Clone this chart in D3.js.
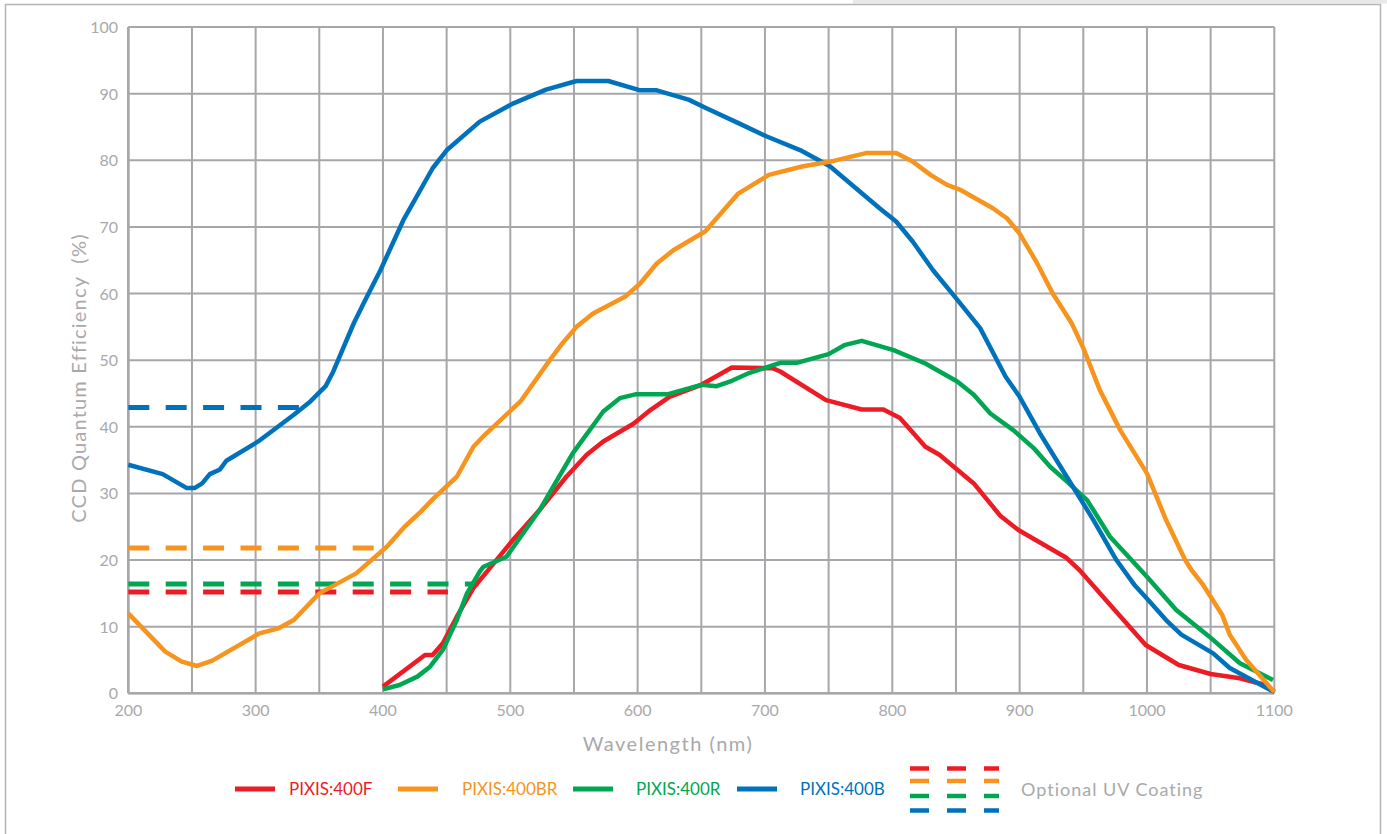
<!DOCTYPE html>
<html>
<head>
<meta charset="utf-8">
<script src="https://cdn.jsdelivr.net/npm/d3@7"></script>
<style>
  html, body { margin: 0; padding: 0; background: #fff; }
  svg { display: block; }
  text { font-family: Lato, "Noto Sans", sans-serif; }
</style>
</head>
<body>
<svg id="chart" width="1387" height="834"></svg>
<script>
// QE curves, [wavelength nm, QE %]
const pixis400F = [[400,1],[433,5.75],[439,5.75],[447,7.5],[458,11.5],[471,15.8],[487,19.5],[502,23],[523,27.5],
  [544,32.5],[560,35.8],[573,37.8],[597,40.5],[610,42.5],[625,44.5],[650,46.3],[674,48.9],[706,48.8],[712,48.3],
  [748,44],[776,42.6],[793,42.6],[806,41.3],[826,37],[837,35.8],[864,31.5],[885,26.6],[899,24.5],[937,20.3],
  [947,18.5],[971,13.3],[999,7.25],[1025,4.25],[1050,2.9],[1073,2.25],[1090,1.4],[1100,0.3]];

const pixis400BR = [[200,12],[229,6.25],[242,4.75],[254,4.1],[266,4.9],[303,9],[318,9.75],[330,11],[350,15],
  [379,18],[403,22],[417,25],[430,27.3],[440,29.3],[458,32.5],[471,37],[480,38.8],[508,43.8],[531,50],[540,52.3],
  [552,55],[565,57],[590,59.5],[602,61.5],[615,64.5],[628,66.5],[653,69.3],[679,75],[703,77.8],[730,79.1],
  [754,79.9],[780,81.1],[803,81.1],[816,79.8],[830,77.8],[843,76.3],[853,75.6],[879,72.8],[890,71.3],[900,69],
  [913,64.8],[926,60],[941,55.5],[950,51.8],[963,45.5],[979,39.5],[1000,33],[1015,26],[1030,20],[1035,18.5],
  [1044,16.3],[1059,11.8],[1065,8.8],[1078,5],[1100,0.2]];

const pixis400R = [[400,0.6],[413,1.25],[427,2.5],[437,4],[447,6.5],[458,11],[466,15],[476,18.25],[479,19],
  [497,20.5],[523,27.5],[549,36],[573,42.3],[586,44.3],[599,44.9],[624,44.9],[650,46.3],[662,46.1],[674,46.9],
  [688,48.1],[712,49.6],[725,49.6],[750,50.9],[763,52.3],[776,52.9],[801,51.5],[826,49.5],[851,46.8],[864,44.8],
  [877,42],[895,39.5],[911,36.8],[924,34],[937,31.8],[953,29],[971,23.5],[1000,17.5],[1023,12.5],[1049,8.5],
  [1073,4.5],[1099,2]];

const pixis400B = [[200,34.3],[227,32.9],[246,30.8],[252,30.8],[258,31.5],[264,32.9],[272,33.6],[277,34.9],
  [302,37.8],[330,41.8],[343,43.8],[355,46.1],[361,48.3],[377,55.5],[386,59],[398,63.5],[416,71],[439,78.8],
  [450,81.5],[476,85.8],[502,88.5],[528,90.6],[552,91.9],[577,91.9],[602,90.5],[615,90.5],[640,89.1],[654,87.8],
  [680,85.5],[701,83.6],[729,81.4],[751,79.1],[790,72.8],[803,70.8],[816,67.8],[832,63.5],[850,59.3],[869,54.8],
  [889,47.5],[900,44.5],[916,39],[937,32.5],[958,26],[976,20],[990,16.3],[1001,14],[1015,11],[1027,8.8],
  [1052,6],[1065,3.8],[1094,0.8],[1100,0.2]];

// optional UV coating levels: [start nm, end nm, QE %]
const uvRed = [200, 451, 15.2];
const uvOrange = [200, 400, 21.8];
const uvGreen = [200, 475, 16.4];
const uvBlue = [200, 340, 42.9];

const xTicks = [200, 300, 400, 500, 600, 700, 800, 900, 1000, 1100];
const yTicks = [0, 10, 20, 30, 40, 50, 60, 70, 80, 90, 100];

const legendNames = ['PIXIS:400F', 'PIXIS:400BR', 'PIXIS:400R', 'PIXIS:400B'];
const colors = { red: '#ed1c24', orange: '#f7941d', green: '#00a651', blue: '#0072bc' };
const gridColor = '#a7a7ab';
const textColor = '#a9a9ab';

const svg = d3.select('#chart');

// outer frame
svg.append('rect').attr('x', 853).attr('y', 0).attr('width', 534).attr('height', 3.5).attr('fill', '#e8e8e8');
svg.append('rect')
  .attr('x', 5.5).attr('y', 4.5).attr('width', 1375).attr('height', 840)
  .attr('fill', 'none').attr('stroke', '#b5b5b5').attr('stroke-width', 1.5);

const x = d3.scaleLinear().domain([200, 1100]).range([128.3, 1274.3]);
const y = d3.scaleLinear().domain([0, 100]).range([693.3, 27]);

const g = svg.append('g');

// grid every 50 nm / 10 %
const xGrid = d3.range(200, 1101, 50);
g.append('g').selectAll('line').data(xGrid).join('line')
  .attr('x1', d => x(d)).attr('x2', d => x(d))
  .attr('y1', y(0)).attr('y2', y(100))
  .attr('stroke', gridColor).attr('stroke-width', 2);
g.append('g').selectAll('line').data(yTicks).join('line')
  .attr('x1', x(200)).attr('x2', x(1100))
  .attr('y1', d => y(d)).attr('y2', d => y(d))
  .attr('stroke', gridColor).attr('stroke-width', 2);
// slightly heavier axes
g.append('line').attr('x1', x(200)).attr('x2', x(200)).attr('y1', y(0)).attr('y2', y(100))
  .attr('stroke', gridColor).attr('stroke-width', 2.6);
g.append('line').attr('x1', x(200)).attr('x2', x(1100)).attr('y1', y(0)).attr('y2', y(0))
  .attr('stroke', gridColor).attr('stroke-width', 2.6);

// tick labels
g.append('g').selectAll('text').data(xTicks).join('text')
  .attr('x', d => x(d)).attr('y', 716)
  .attr('text-anchor', 'middle')
  .attr('font-size', 16).attr('fill', textColor)
  .text(d => d);
g.append('g').selectAll('text').data(yTicks).join('text')
  .attr('x', 118).attr('y', d => y(d) + 6)
  .attr('text-anchor', 'end')
  .attr('font-size', 16).attr('fill', textColor)
  .text(d => d);

// axis titles
svg.append('text')
  .attr('x', 668).attr('y', 751)
  .attr('text-anchor', 'middle')
  .attr('font-size', 20).attr('letter-spacing', 1.5).attr('fill', textColor)
  .text('Wavelength (nm)');
svg.append('text')
  .attr('transform', 'translate(86,378) rotate(-90)')
  .attr('text-anchor', 'middle')
  .attr('font-size', 20).attr('letter-spacing', 1.2).attr('fill', textColor)
  .attr('xml:space', 'preserve')
  .text('CCD Quantum Efficiency  (%)');

// dashed UV coating levels
const uvData = [
  { v: uvRed, c: colors.red },
  { v: uvOrange, c: colors.orange },
  { v: uvGreen, c: colors.green },
  { v: uvBlue, c: colors.blue }
];
g.append('g').selectAll('line').data(uvData).join('line')
  .attr('x1', d => x(d.v[0])).attr('x2', d => x(d.v[1]))
  .attr('y1', d => y(d.v[2])).attr('y2', d => y(d.v[2]))
  .attr('stroke', d => d.c).attr('stroke-width', 5)
  .attr('stroke-dasharray', '21,16.4');

// curves
const line = d3.line().x(d => x(d[0])).y(d => y(d[1]));
const series = [
  { data: pixis400F, c: colors.red },
  { data: pixis400R, c: colors.green },
  { data: pixis400B, c: colors.blue },
  { data: pixis400BR, c: colors.orange }
];
g.append('g').selectAll('path').data(series).join('path')
  .attr('d', d => line(d.data))
  .attr('fill', 'none')
  .attr('stroke', d => d.c)
  .attr('stroke-width', 4.5)
  .attr('stroke-linejoin', 'round');

// legend
const legendItems = [
  { name: legendNames[0], c: colors.red, lx: 235, tx: 289 },
  { name: legendNames[1], c: colors.orange, lx: 398, tx: 462 },
  { name: legendNames[2], c: colors.green, lx: 573, tx: 636 },
  { name: legendNames[3], c: colors.blue, lx: 737, tx: 800 }
];
const legend = svg.append('g');
legendItems.forEach(item => {
  legend.append('line')
    .attr('x1', item.lx).attr('x2', item.lx + 40)
    .attr('y1', 789).attr('y2', 789)
    .attr('stroke', item.c).attr('stroke-width', 5);
  legend.append('text')
    .attr('x', item.tx).attr('y', 795)
    .attr('font-size', 17).attr('fill', item.c)
    .text(item.name);
});
const uvRows = [
  { c: colors.red, yy: 768.5 },
  { c: colors.orange, yy: 781 },
  { c: colors.green, yy: 796 },
  { c: colors.blue, yy: 810.5 }
];
uvRows.forEach(r => {
  legend.append('line')
    .attr('x1', 910).attr('x2', 999)
    .attr('y1', r.yy).attr('y2', r.yy)
    .attr('stroke', r.c).attr('stroke-width', 4.5)
    .attr('stroke-dasharray', '19,18');
});
legend.append('text')
  .attr('x', 1021).attr('y', 796)
  .attr('font-size', 18).attr('letter-spacing', 1).attr('fill', textColor)
  .text('Optional UV Coating');
</script>
</body>
</html>
